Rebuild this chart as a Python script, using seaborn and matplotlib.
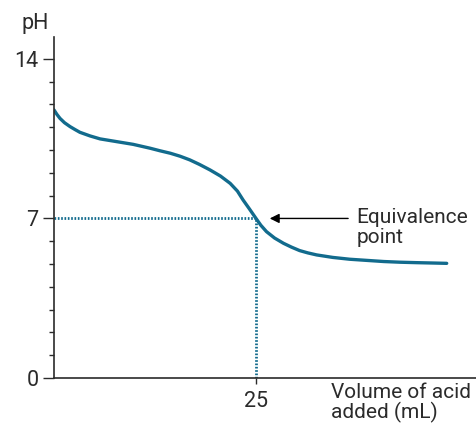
import numpy as np
import pandas as pd
import matplotlib
matplotlib.use("Agg")
import matplotlib.pyplot as plt
from matplotlib.ticker import MultipleLocator
import seaborn as sns

# ── Data ──────────────────────────────────────────────────────────────────────
volume = [0, 0.35, 0.74, 1.3, 1.98, 2.6, 3.2, 4.46, 5.7, 7.75, 9.8, 11.9, 13.1,
          14.4, 15.6, 16.8, 18.0, 19.3, 20.6, 21.8, 22.7, 23.4, 24.2, 25.0,
          25.6, 26.3, 27.3, 28.4, 29.4, 30.4, 31.4, 32.5, 34.5, 36.6, 38.7,
          40.8, 42.8, 44.9, 46.8, 48.6]
ph = [11.76, 11.57, 11.39, 11.2, 11.03, 10.9, 10.78, 10.62, 10.49, 10.37,
      10.25, 10.08, 9.97, 9.86, 9.73, 9.57, 9.37, 9.13, 8.86, 8.54, 8.2, 7.81,
      7.41, 7.0, 6.7, 6.42, 6.14, 5.91, 5.74, 5.59, 5.49, 5.4, 5.29, 5.21,
      5.16, 5.11, 5.08, 5.06, 5.045, 5.03]
eq_volume = 25
eq_ph = 7
y_ticks = [0, 7, 14]
x_ticks = [25]

CURVE = "#126b8d"
TEXT = "#2b2b2b"

sns.set_style("ticks")
plt.rcParams["font.family"] = ["Roboto", "DejaVu Sans"]

df = pd.DataFrame({"volume": volume, "pH": ph})

fig = plt.figure(figsize=(4.77, 4.28), dpi=100)
ax = fig.add_axes([54 / 477, 50 / 428, 423 / 477, 341 / 428])

sns.lineplot(data=df, x="volume", y="pH", ax=ax, color=CURVE, linewidth=2.4)

# dotted guide lines to the equivalence point
ax.plot([0, eq_volume], [eq_ph, eq_ph], color=CURVE, lw=2, linestyle=(0, (0.6, 0.6)))
ax.plot([eq_volume, eq_volume], [0, eq_ph], color=CURVE, lw=2, linestyle=(0, (0.6, 0.6)))

ax.set_xlim(0, 52.35)
ax.set_ylim(0, 14.96)
ax.set_xticks(x_ticks)
ax.set_yticks(y_ticks)
ax.yaxis.set_minor_locator(MultipleLocator(1))
ax.tick_params(axis="y", which="major", length=8, width=1, color=TEXT,
               labelsize=15.5, labelcolor=TEXT, pad=3)
ax.tick_params(axis="y", which="minor", length=3.5, width=1, color=TEXT)
ax.tick_params(axis="x", which="major", length=4.5, width=1, color=TEXT,
               labelsize=15.5, labelcolor=TEXT, pad=5)
for side in ["top", "right"]:
    ax.spines[side].set_visible(False)
for side in ["left", "bottom"]:
    ax.spines[side].set_color(TEXT)
    ax.spines[side].set_linewidth(1.2)
ax.set_xlabel("")
ax.set_ylabel("")

ax.annotate("", xy=(26.7, eq_ph), xytext=(36.4, eq_ph),
            arrowprops=dict(arrowstyle="-|>", color="black", lw=1,
                            mutation_scale=14, shrinkA=0, shrinkB=0))
ax.text(37.4, 7.45, "Equivalence\npoint", ha="left", va="top",
        fontsize=15, color=TEXT, linespacing=1.05)

ax.text(34.3, -0.2, "Volume of acid\nadded (mL)", ha="left", va="top",
        fontsize=15, color=TEXT, linespacing=1.0, clip_on=False)
fig.text(22 / 477, 1 - 23 / 428, "pH", ha="left", va="center",
         fontsize=15.5, color=TEXT)

fig.savefig("out.png", dpi=100, facecolor="white")
plt.close(fig)
